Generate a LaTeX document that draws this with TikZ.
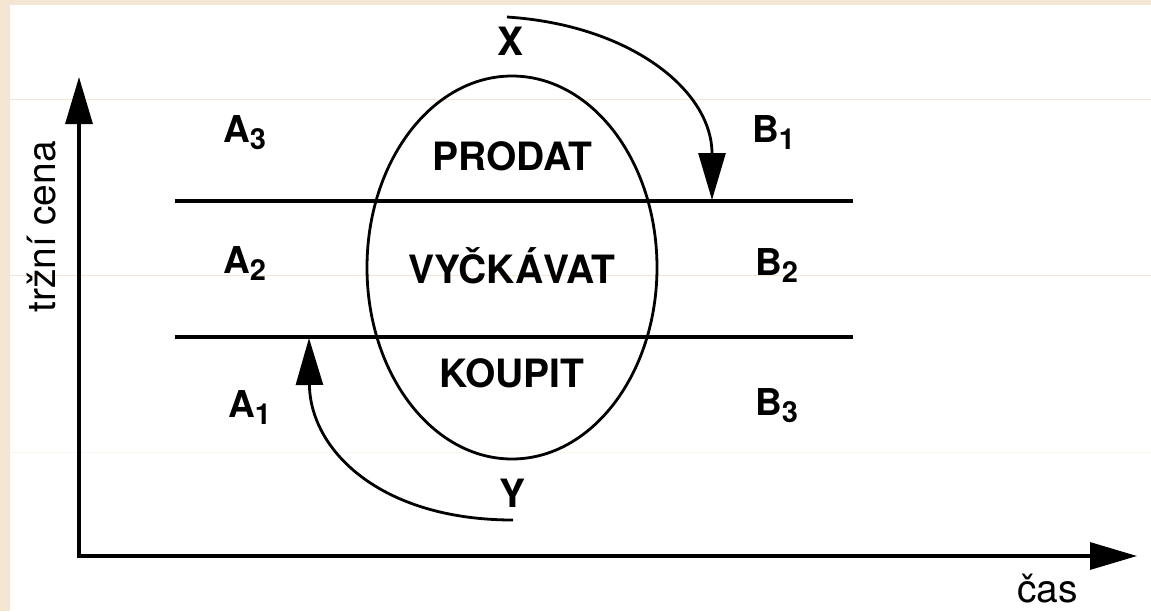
\documentclass[tikz,border=0pt]{standalone}
\usepackage{fontspec}
\setmainfont{TeX Gyre Heros}
\usetikzlibrary{arrows.meta,shapes.geometric}
\definecolor{peach}{RGB}{245,230,212}
\newcommand\zone[2]{#1\raisebox{-7pt}{\fontsize{29}{29}\selectfont #2}}

\begin{document}
\begin{tikzpicture}[x=1pt,y=-1pt,
  line/.style={line width=3.2pt},
  curve/.style={line width=2.8pt},
  lab/.style={inner sep=0pt, anchor=base west, font=\fontsize{37}{37}\selectfont\bfseries},
  word/.style={inner sep=0pt, anchor=base, font=\fontsize{39}{39}\selectfont\bfseries},
  axlab/.style={inner sep=0pt, font=\fontsize{39}{39}\selectfont},
  >={Triangle[length=47pt,width=27pt]}]
  \useasboundingbox (0,0) rectangle (1151,611);
  \fill[peach] (0,0) rectangle (1151,611);
  \fill[white] (10,5) rectangle (1151,611);
  \draw[peach, line width=1pt] (10,99) -- (1151,99);
  \draw[peach, line width=1pt] (10,275) -- (1151,275);
  \draw[peach!40, line width=1pt] (10,452) -- (1151,452);

  \coordinate (ytop) at (79,77);
  \coordinate (xright) at (1137,556);
  \draw[line,<->] (ytop) |- (xright);
  \node[axlab, rotate=90, anchor=base] (price) at (55,227) {tržní cena};
  \node[axlab, anchor=base west] (time) at (1017,602) {čas};

  \coordinate (hiW) at (175,201);
  \coordinate (hiE) at (853,201);
  \coordinate (loW) at (175,337);
  \coordinate (loE) at (853,337);
  \draw[line] (hiW) -- (hiE);
  \draw[line] (loW) -- (loE);

  \node[draw, ellipse, curve, minimum width=290pt, minimum height=383pt, inner sep=0pt]
        (oval) at (512,267.5) {};
  \node[word] (sell) at (512,170) {PRODAT};
  \node[word] (wait) at (512,283) {VYČKÁVAT};
  \node[word] (buy) at (512,387) {KOUPIT};

  \node[lab] (a3) at (223,142) {\zone{A}{3}};
  \node[lab] (a2) at (223,273) {\zone{A}{2}};
  \node[lab] (a1) at (228,417) {\zone{A}{1}};
  \node[lab] (b1) at (752,142) {\zone{B}{1}};
  \node[lab] (b2) at (755,275) {\zone{B}{2}};
  \node[lab] (b3) at (755,415) {\zone{B}{3}};

  \node[word] (x) at (511,55) {X};
  \node[word] (y) at (512,507) {Y};

  \coordinate (xfrom) at (507,17);
  \coordinate (xto) at (712,200);
  \coordinate (yfrom) at (513,520);
  \coordinate (yto) at (309,338);
  \draw[curve,->] (xfrom) .. controls (630,25) and (712,90) .. (xto);
  \draw[curve,->] (yfrom) .. controls (380,520) and (310,450) .. (yto);
\end{tikzpicture}
\end{document}
